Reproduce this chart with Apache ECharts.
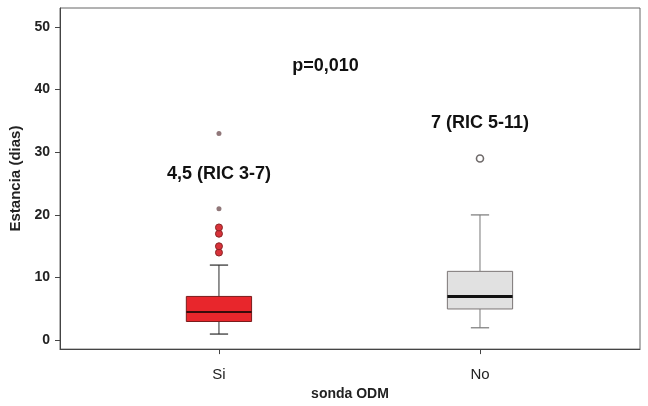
<!DOCTYPE html>
<html>
<head>
<meta charset="utf-8">
<script src="https://cdn.jsdelivr.net/npm/echarts@6/dist/echarts.min.js"></script>
<style>
  html, body { margin: 0; padding: 0; background: #fff; }
  #chart { width: 648px; height: 406px; }
</style>
</head>
<body>
<div id="chart"></div>
<script>
// Hospital stay (days) by ODM tube use
const categories = ['Si', 'No'];
// [lower whisker, Q1, median, Q3, upper whisker]
const boxStats = [
  [1, 3, 4.5, 7, 12],
  [2, 5, 7, 11, 20]
];
const outliersSi = [14, 15, 17, 18];
const extremesSi = [21, 33];
const outliersNo = [29];
const yTicks = [0, 10, 20, 30, 40, 50];
const groupLabels = ['4,5 (RIC 3-7)', '7 (RIC 5-11)'];
const pValueLabel = 'p=0,010';

const FONT = '"Liberation Sans", Arial, Helvetica, sans-serif';

const boxStyles = [
  { fill: '#e8262c', border: '#7a1c1c', median: '#3a0c0c', medianWidth: 2, whisker: '#2a2a2a' },
  { fill: '#e1e1e1', border: '#7b7575', median: '#111111', medianWidth: 3, whisker: '#777777' }
];

function renderBox(params, api) {
  const i = api.value(0);
  const lo = api.value(1), q1 = api.value(2), med = api.value(3), q3 = api.value(4), hi = api.value(5);
  const unit = api.size([1, 0])[0];
  const halfBox = unit * 0.125;
  const halfCap = unit * 0.035;
  const cx = api.coord([i, 0])[0];
  const yLo = api.coord([i, lo])[1];
  const yQ1 = api.coord([i, q1])[1];
  const yMed = api.coord([i, med])[1];
  const yQ3 = api.coord([i, q3])[1];
  const yHi = api.coord([i, hi])[1];
  const s = boxStyles[params.dataIndex];
  const line = (x1, y1, x2, y2, stroke, w) => ({
    type: 'line',
    shape: { x1, y1, x2, y2 },
    style: { stroke, lineWidth: w }
  });
  return {
    type: 'group',
    children: [
      line(cx, yQ3, cx, yHi, s.whisker, 1),
      line(cx, yQ1, cx, yLo, s.whisker, 1),
      line(cx - halfCap, yHi, cx + halfCap, yHi, s.whisker, 1.2),
      line(cx - halfCap, yLo, cx + halfCap, yLo, s.whisker, 1.2),
      {
        type: 'rect',
        shape: { x: cx - halfBox, y: yQ3, width: halfBox * 2, height: yQ1 - yQ3 },
        style: { fill: s.fill, stroke: s.border, lineWidth: 1 }
      },
      line(cx - halfBox, yMed, cx + halfBox, yMed, s.median, s.medianWidth)
    ]
  };
}

const chart = echarts.init(document.getElementById('chart'), null, { renderer: 'canvas' });

chart.setOption({
  backgroundColor: '#ffffff',
  animation: false,
  grid: {
    left: 60, right: 8, top: 8, bottom: 49,
    show: true, borderColor: '#666', borderWidth: 1, backgroundColor: 'transparent'
  },
  xAxis: {
    type: 'value',
    min: -0.609, max: 1.613,
    name: 'sonda ODM',
    nameLocation: 'middle',
    nameGap: 31,
    nameTextStyle: { fontFamily: FONT, fontWeight: 'bold', fontSize: 14, color: '#222' },
    axisLine: { show: true, onZero: false, lineStyle: { color: '#444', width: 1 } },
    axisTick: { show: true, length: 5, customValues: [0, 1], lineStyle: { color: '#444' } },
    axisLabel: {
      customValues: [0, 1],
      formatter: v => categories[Math.round(v)] || '',
      fontFamily: FONT, fontSize: 15, color: '#222', margin: 18
    },
    splitLine: { show: false }
  },
  yAxis: {
    type: 'value',
    min: -1.4, max: 53,
    name: 'Estancia (dias)',
    nameLocation: 'middle',
    nameGap: 33,
    nameRotate: 90,
    nameTextStyle: { fontFamily: FONT, fontWeight: 'bold', fontSize: 15, color: '#222' },
    axisLine: { show: true, onZero: false, lineStyle: { color: '#444', width: 1 } },
    axisTick: { show: true, length: 5, customValues: yTicks, lineStyle: { color: '#444' } },
    axisLabel: {
      customValues: yTicks,
      fontFamily: FONT, fontWeight: 'bold', fontSize: 14, color: '#222', margin: 10
    },
    splitLine: { show: false }
  },
  series: [
    {
      type: 'custom',
      renderItem: renderBox,
      encode: { x: 0, y: [1, 2, 3, 4, 5] },
      data: boxStats.map((s, i) => [i, ...s]),
      z: 2
    },
    {
      type: 'scatter',
      symbol: 'circle',
      symbolSize: 7,
      itemStyle: { color: '#d8323a', borderColor: '#8a2424', borderWidth: 1, opacity: 1 },
      data: outliersSi.map(v => [0, v]),
      z: 3
    },
    {
      type: 'scatter',
      symbol: 'circle',
      symbolSize: 5,
      itemStyle: { color: '#7d5f62', opacity: 0.85 },
      data: extremesSi.map(v => [0, v]),
      z: 3
    },
    {
      type: 'scatter',
      symbol: 'circle',
      symbolSize: 7,
      itemStyle: { color: '#ffffff', borderColor: '#6f6a6a', borderWidth: 1.6, opacity: 1 },
      data: outliersNo.map(v => [1, v]),
      z: 3
    },
    {
      type: 'scatter',
      symbolSize: 1,
      itemStyle: { color: 'rgba(0,0,0,0)', opacity: 1 },
      silent: true,
      label: {
        show: true,
        position: 'inside',
        formatter: p => p.data.text,
        fontFamily: FONT, fontWeight: 'bold', fontSize: 18, color: '#111',
        textBorderWidth: 0
      },
      data: [
        { value: [0, 26.5], text: groupLabels[0] },
        { value: [1, 34.6], text: groupLabels[1] },
        { value: [0.408, 43.8], text: pValueLabel }
      ],
      z: 4
    }
  ]
});
</script>
</body>
</html>
